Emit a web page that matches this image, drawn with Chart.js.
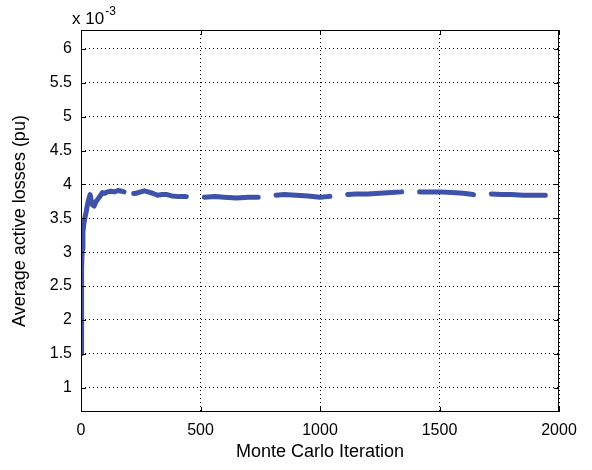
<!DOCTYPE html>
<html>
<head>
<meta charset="utf-8">
<script src="https://cdn.jsdelivr.net/npm/chart.js@4.4.1/dist/chart.umd.min.js"></script>
<style>
    html, body { margin: 0; padding: 0; background: #fff; }
    #grafico { display: block; }
</style>
</head>
<body>
<canvas id="grafico" width="592" height="470"></canvas>
<script>
// valores (perdas em unidades de 10^-3 pu)
const iteracoes = [1, 2, 3, 5, 8, 12, 16, 22, 28, 34, 38, 42, 48, 55, 62, 70, 80, 90, 100, 110, 125, 140, 155, 170, 180,
    207, 230, 250, 265, 280, 300, 320, 340, 360, 380, 410, 440, 470, 508, 560, 600, 650, 700, 755, 780,
    810, 850, 900, 950, 1000, 1030, 1060, 1085, 1110, 1150, 1200, 1250, 1300, 1340, 1362, 1390,
    1420, 1460, 1500, 1550, 1600, 1640, 1660, 1690, 1718, 1760, 1800, 1850, 1900, 1950];
const perdas = [1.5, 2.2, 2.75, 3.05, 3.3, 3.42, 3.5, 3.6, 3.72, 3.8, 3.85, 3.78, 3.7, 3.68, 3.74, 3.78, 3.83, 3.88, 3.87, 3.89, 3.9, 3.89, 3.91, 3.9, 3.89,
    3.86, 3.87, 3.89, 3.905, 3.89, 3.87, 3.84, 3.85, 3.85, 3.83, 3.82, 3.82, 3.81, 3.81, 3.82, 3.81, 3.8, 3.81, 3.81, 3.82,
    3.84, 3.85, 3.84, 3.83, 3.81, 3.82, 3.83, 3.84, 3.85, 3.86, 3.86, 3.87, 3.88, 3.89, 3.9, 3.895,
    3.89, 3.89, 3.89, 3.88, 3.87, 3.85, 3.84, 3.85, 3.86, 3.85, 3.85, 3.84, 3.84, 3.84];
const ticksX = [0, 500, 1000, 1500, 2000];
const ticksY = [1, 1.5, 2, 2.5, 3, 3.5, 4, 4.5, 5, 5.5, 6];

const fonte = "'Liberation Sans', Arial, sans-serif";
const fimTrechoSolido = 180; // antes disso a linha aparece continua

// moldura, marcas internas e o "x 10^-3"
const molduraPlugin = {
    id: 'moldura',
    afterDraw(chart) {
        const { ctx, chartArea: a, scales } = chart;
        ctx.save();
        ctx.strokeStyle = '#000';
        ctx.lineWidth = 1;
        ctx.strokeRect(a.left + 0.5, a.top + 0.5, a.right - a.left - 1, a.bottom - a.top - 1);

        ctx.beginPath();
        ticksX.forEach(v => {
            const px = Math.round(scales.x.getPixelForValue(v)) + 0.5;
            ctx.moveTo(px, a.bottom); ctx.lineTo(px, a.bottom - 5);
            ctx.moveTo(px, a.top); ctx.lineTo(px, a.top + 5);
        });
        ticksY.forEach(v => {
            const py = Math.round(scales.y.getPixelForValue(v)) + 0.5;
            ctx.moveTo(a.left, py); ctx.lineTo(a.left + 5, py);
            ctx.moveTo(a.right, py); ctx.lineTo(a.right - 5, py);
        });
        ctx.stroke();

        ctx.fillStyle = '#000';
        ctx.textBaseline = 'alphabetic';
        ctx.textAlign = 'left';
        ctx.font = '17px ' + fonte;
        ctx.fillText('x 10', 72, 24);
        const w = ctx.measureText('x 10').width;
        ctx.font = '12px ' + fonte;
        ctx.fillText('-3', 72 + w + 1, 15);
        ctx.restore();
    }
};

const dados = iteracoes.map((x, i) => ({ x: x, y: perdas[i] }));
const ehSolido = ctx => iteracoes[ctx.p0DataIndex] < fimTrechoSolido;

new Chart(document.getElementById('grafico').getContext('2d'), {
    type: 'line',
    data: {
        datasets: [{
            data: dados,
            borderColor: '#3d52a8',
            borderWidth: 5,
            borderCapStyle: 'round',
            borderJoinStyle: 'round',
            pointRadius: 0,
            tension: 0,
            fill: false,
            segment: {
                borderDash: ctx => ehSolido(ctx) ? [] : [54, 18],
                borderDashOffset: ctx => ehSolido(ctx) ? 0 : 62
            }
        }]
    },
    options: {
        responsive: false,
        animation: false,
        layout: { padding: { left: 0, top: 30, right: 33, bottom: 0 } },
        plugins: {
            legend: { display: false },
            tooltip: { enabled: false }
        },
        scales: {
            x: {
                type: 'linear',
                min: 0,
                max: 2000,
                afterFit: s => { s.height = 58; },
                afterBuildTicks: s => { s.ticks = ticksX.map(v => ({ value: v })); },
                grid: { color: '#000', lineWidth: 1, drawTicks: false },
                border: { display: false, dash: [1, 3] },
                ticks: {
                    color: '#000',
                    font: { family: fonte, size: 16 },
                    padding: 9,
                    maxRotation: 0,
                    autoSkip: false,
                    callback: v => String(v)
                },
                title: {
                    display: true,
                    text: 'Monte Carlo Iteration',
                    color: '#000',
                    font: { family: fonte, size: 18 },
                    padding: { top: 0, bottom: 7 }
                }
            },
            y: {
                type: 'linear',
                min: 0.64,
                max: 6.28,
                afterFit: s => { s.width = 81; },
                afterBuildTicks: s => { s.ticks = ticksY.map(v => ({ value: v })); },
                grid: { color: '#000', lineWidth: 1, drawTicks: false },
                border: { display: false, dash: [1, 3] },
                ticks: {
                    color: '#000',
                    font: { family: fonte, size: 16 },
                    padding: 9,
                    callback: v => String(v)
                },
                title: {
                    display: true,
                    text: 'Average active losses (pu)',
                    color: '#000',
                    font: { family: fonte, size: 18 },
                    padding: { top: 9, bottom: 0 }
                }
            }
        }
    },
    plugins: [molduraPlugin]
});
</script>
</body>
</html>
